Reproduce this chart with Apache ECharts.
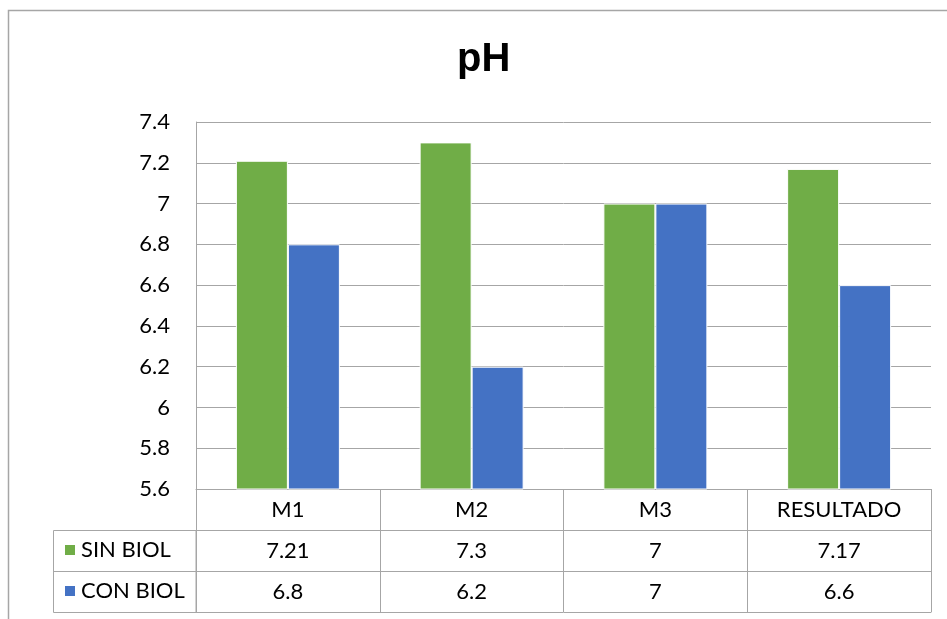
<!DOCTYPE html>
<html>
<head>
<meta charset="utf-8">
<script src="https://cdn.jsdelivr.net/npm/echarts@6/dist/echarts.min.js"></script>
<style>html,body{margin:0;padding:0;background:#fff}#c{width:947px;height:619px}</style>
</head>
<body>
<div id="c"></div>
<script>
var categories = ['M1', 'M2', 'M3', 'RESULTADO'];
var sinBiol = [7.21, 7.3, 7, 7.17];
var conBiol = [6.8, 6.2, 7, 6.6];
var seriesNames = ['SIN BIOL', 'CON BIOL'];
var colors = ['#70ad47', '#4472c4'];

var FONT = 'Lato';
var GREY = '#a6a6a6';
var ROW = 41;

function tableAxis(offset, labels, showTick) {
  return {
    type: 'category',
    position: 'bottom',
    gridIndex: 0,
    offset: offset,
    data: categories,
    axisLine: { show: true, lineStyle: { color: GREY, width: 1 } },
    axisTick: { show: showTick, length: ROW, inside: false, interval: 0, alignWithLabel: false, lineStyle: { color: GREY, width: 1 } },
    axisLabel: {
      show: !!labels, interval: 0, margin: 10,
      fontFamily: FONT, fontSize: 22, color: '#000',
      formatter: function (v, i) { return labels ? String(labels[i]) : ''; }
    },
    splitLine: { show: false }
  };
}

var chart = echarts.init(document.getElementById('c'), null, { renderer: 'canvas' });
chart.setOption({
  animation: false,
  backgroundColor: '#fff',
  title: {
    text: 'pH', left: 457, top: 40, padding: 0,
    textStyle: { fontFamily: 'Liberation Sans', fontWeight: 'bold', fontSize: 40, color: '#000' }
  },
  legend: {
    orient: 'vertical', left: 63, top: 539, padding: 0,
    itemWidth: 12, itemHeight: 12, itemGap: 19,
    icon: 'rect',
    data: seriesNames,
    textStyle: { fontFamily: FONT, fontSize: 22, color: '#000', lineHeight: 22 }
  },
  grid: { left: 196, right: 16, top: 122, bottom: 130, containLabel: false },
  xAxis: [
    tableAxis(0, categories, true),
    tableAxis(ROW, sinBiol, true),
    tableAxis(ROW * 2, conBiol, true),
    tableAxis(ROW * 3, null, false)
  ],
  yAxis: {
    type: 'value', min: 5.6, max: 7.4, interval: 0.2,
    axisLine: { show: true, lineStyle: { color: GREY, width: 1 } },
    axisTick: { show: false },
    splitLine: { show: true, lineStyle: { color: GREY, width: 1 } },
    axisLabel: {
      margin: 26, fontFamily: FONT, fontSize: 22, color: '#000',
      formatter: function (v) { return String(parseFloat(v.toFixed(1))); }
    }
  },
  series: [
    { type: 'bar', name: seriesNames[0], xAxisIndex: 0, data: sinBiol, barWidth: 52, barGap: '0%',
      itemStyle: { color: colors[0], borderColor: '#fff', borderWidth: 1 } },
    { type: 'bar', name: seriesNames[1], xAxisIndex: 0, data: conBiol, barWidth: 52, barGap: '0%',
      itemStyle: { color: colors[1], borderColor: '#fff', borderWidth: 1 } }
  ],
  graphic: [
    { type: 'polyline', silent: true, shape: { points: [[8.5, 619], [8.5, 10.5], [947, 10.5]] },
      style: { fill: 'none', stroke: GREY, lineWidth: 1.5 } },
    { type: 'rect', silent: true, shape: { x: 53.5, y: 489.5 + ROW, width: 142.5, height: ROW * 2 },
      style: { fill: 'none', stroke: GREY, lineWidth: 1 } },
    { type: 'line', silent: true, shape: { x1: 53.5, y1: 489.5 + ROW * 2, x2: 196, y2: 489.5 + ROW * 2 },
      style: { stroke: GREY, lineWidth: 1 } }
  ]
});
</script>
</body>
</html>
